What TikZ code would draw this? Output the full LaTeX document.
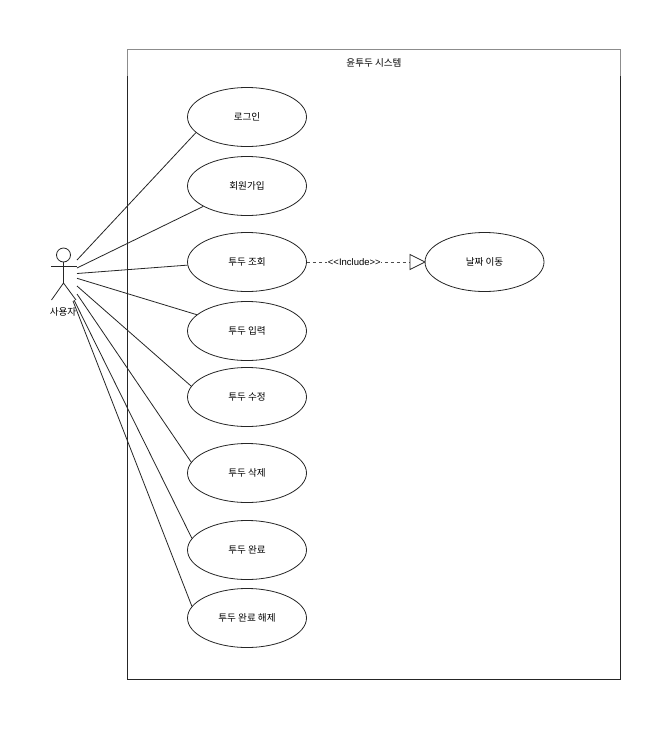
\documentclass[tikz,border=0pt]{standalone}
\usepackage{fontspec}
\setmainfont{Noto Sans CJK KR}
\newfontfamily\latinf{Liberation Sans}
\usetikzlibrary{shapes.geometric}
\newcommand\lowertxt[1]{\raisebox{-0.8pt}{#1}}
\tikzset{
  txt/.style={font=\fontsize{9.6}{11}\selectfont},
  usecase/.style={draw=black!85,line width=.8pt,ellipse,minimum width=119pt,minimum height=59pt,inner sep=0pt,txt},
  assoc/.style={draw=black!85,line width=.8pt},
  actorline/.style={draw=black!85,line width=.8pt},
}
\begin{document}
\begin{tikzpicture}[x=1pt,y=-1pt]
\useasboundingbox (0,0) rectangle (671,729);
\fill[white] (0,0) rectangle (671,729);
\draw[draw=black!45,line width=.8pt] (127.5,76) -- (127.5,49.5) -- (620.5,49.5) -- (620.5,76);
\draw[draw=black!85,line width=.8pt] (127.5,76) -- (127.5,679.5) -- (620.5,679.5) -- (620.5,76);
\node[txt] (title) at (374,63) {윤투두 시스템};
\node[usecase] (e1) at (247,117) {\lowertxt{로그인}};
\node[usecase] (e2) at (247,186) {\lowertxt{회원가입}};
\node[usecase] (e3) at (247,262) {\lowertxt{투두 조회}};
\node[usecase] (e4) at (247,331) {\lowertxt{투두 입력}};
\node[usecase] (e5) at (247,397) {\lowertxt{투두 수정}};
\node[usecase] (e6) at (247,473) {\lowertxt{투두 삭제}};
\node[usecase] (e7) at (247,550) {\lowertxt{투두 완료}};
\node[usecase] (e8) at (247,618) {\lowertxt{투두 완료 해제}};
\node[usecase] (e9) at (484.5,262) {\lowertxt{날짜 이동}};
\node[txt] (actorlabel) at (63,312) {사용자};
\node[draw=black!85,line width=.8pt,circle,minimum size=14pt,inner sep=0pt] (head) at (63.5,255) {};
\coordinate (hip) at (63.5,283);
\coordinate (armL) at (51,266);
\coordinate (armR) at (77,266);
\coordinate (legL) at (51.5,300);
\coordinate (legR) at (76,300);
\draw[actorline] (head) -- (hip);
\draw[actorline] (armL) -- (armR);
\draw[actorline] (legL) -- (hip) -- (legR);
\coordinate (a1) at (77,260);
\coordinate (a2) at (77,268);
\coordinate (a3) at (77,273.5);
\coordinate (a4) at (77,278.3);
\coordinate (a5) at (77,286);
\coordinate (a6) at (77,294);
\coordinate (a7) at (74,300);
\coordinate (a8) at (73,301);
\draw[assoc] (a1) -- (e1.197);
\draw[assoc] (a2) -- (e2.205.5);
\draw[assoc] (a3) -- (e3.183.5);
\draw[assoc] (a4) -- (e4.162);
\draw[assoc] (a5) -- (e5.169.6);
\draw[assoc] (a6) -- (e6.169);
\draw[assoc] (a7) -- (e7.168.5);
\draw[assoc] (a8) -- (e8.168);
\coordinate (tri) at (410,262);
\draw[draw=black!70,line width=.8pt,dash pattern=on 3pt off 3pt] (e3.east) -- (tri) node[pos=.46,fill=white,inner sep=0.5pt,text=black,font=\latinf\fontsize{9.5}{11}\selectfont] (lab) {<{}<Include>{}>};
\draw[draw=black!85,line width=.8pt,fill=white] (410,254.5) -- (425,262) -- (410,269.5) -- cycle;
\end{tikzpicture}
\end{document}
